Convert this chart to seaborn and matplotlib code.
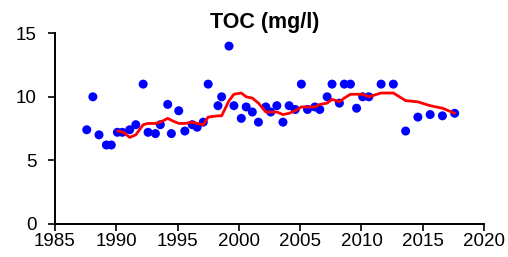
import numpy as np
import pandas as pd
import matplotlib
matplotlib.use("Agg")
import matplotlib.pyplot as plt
import seaborn as sns

# ── Datos: TOC (mg/l) medido y tendencia ─────────────────────
anio = [1987.6, 1988.1, 1988.6, 1989.2, 1989.6, 1990.1, 1990.5, 1991.1, 1991.6,
        1992.2, 1992.6, 1993.2, 1993.6, 1994.2, 1994.5, 1995.1, 1995.6, 1996.2,
        1996.6, 1997.1, 1997.5, 1998.3, 1998.6, 1999.2, 1999.6, 2000.2, 2000.6,
        2001.1, 2001.6, 2002.2, 2002.6, 2003.1, 2003.6, 2004.1, 2004.6, 2005.1,
        2005.6, 2006.2, 2006.6, 2007.2, 2007.6, 2008.2, 2008.6, 2009.1, 2009.6,
        2010.1, 2010.6, 2011.6, 2012.6, 2013.6, 2014.6, 2015.6, 2016.6, 2017.6]
toc = [7.4, 10.0, 7.0, 6.2, 6.2, 7.2, 7.2, 7.4, 7.8,
       11.0, 7.2, 7.1, 7.8, 9.4, 7.1, 8.9, 7.3, 7.8,
       7.6, 8.0, 11.0, 9.3, 10.0, 14.0, 9.3, 8.3, 9.2,
       8.8, 8.0, 9.2, 8.8, 9.3, 8.0, 9.3, 9.0, 11.0,
       9.0, 9.2, 9.0, 10.0, 11.0, 9.5, 11.0, 11.0, 9.1,
       10.0, 10.0, 11.0, 11.0, 7.3, 8.4, 8.6, 8.5, 8.7]

anio_tend = [1990.1, 1990.6, 1991.1, 1991.6, 1992.2, 1992.6, 1993.2, 1993.6,
             1994.2, 1994.6, 1995.1, 1995.6, 1996.2, 1996.6, 1997.1, 1997.5,
             1998.3, 1998.6, 1999.2, 1999.6, 2000.2, 2000.6, 2001.1, 2001.6,
             2002.2, 2002.6, 2003.1, 2003.6, 2004.1, 2004.6, 2005.1, 2005.6,
             2006.2, 2006.6, 2007.2, 2007.6, 2008.2, 2008.6, 2009.1, 2009.6,
             2010.1, 2010.6, 2011.6, 2012.6, 2013.6, 2014.6, 2015.6, 2016.6,
             2017.6]
toc_tend = [7.3, 7.2, 6.8, 7.0, 7.8, 7.9, 7.9, 8.0,
            8.3, 8.1, 7.9, 7.9, 8.0, 7.9, 7.8, 8.4,
            8.5, 8.5, 9.7, 10.2, 10.3, 10.0, 9.9, 9.5,
            8.8, 8.8, 8.8, 8.6, 8.7, 8.9, 9.2, 9.2,
            9.2, 9.4, 9.5, 9.8, 9.6, 9.9, 10.2, 10.2,
            10.2, 10.0, 10.3, 10.3, 9.7, 9.6, 9.3, 9.1, 8.7]

df = pd.DataFrame({"anio": anio, "toc": toc})
df_tend = pd.DataFrame({"anio": anio_tend, "toc": toc_tend})

# ── Estilo ───────────────────────────────────────────────────
sns.set_style("ticks")
plt.rcParams["font.family"] = ["Liberation Sans", "DejaVu Sans"]

fig = plt.figure(figsize=(5.08, 2.57), dpi=100)
ax = fig.add_axes([0.108, 0.130, 0.845, 0.740])

sns.scatterplot(data=df, x="anio", y="toc", ax=ax, color="#0000ff",
                s=42, edgecolor="none", zorder=2)
sns.lineplot(data=df_tend, x="anio", y="toc", ax=ax, color="#ff0000",
             linewidth=2.0, zorder=3)

ax.set_xlim(1985, 2020)
ax.set_ylim(0, 15)
ax.set_xticks(range(1985, 2021, 5))
ax.set_yticks([0, 5, 10, 15])
ax.set_xlabel("")
ax.set_ylabel("")
ax.tick_params(axis="both", labelsize=13.5, direction="out", length=5,
               width=1.2, colors="black", pad=2)
ax.tick_params(axis="y", pad=8)
for lado in ["left", "bottom"]:
    ax.spines[lado].set_linewidth(1.4)
    ax.spines[lado].set_color("black")
sns.despine(ax=ax)

fig.suptitle("TOC (mg/l)", x=0.521, y=0.955, fontsize=15.5,
             fontweight="bold", color="black")

fig.savefig("out.png", dpi=100)
